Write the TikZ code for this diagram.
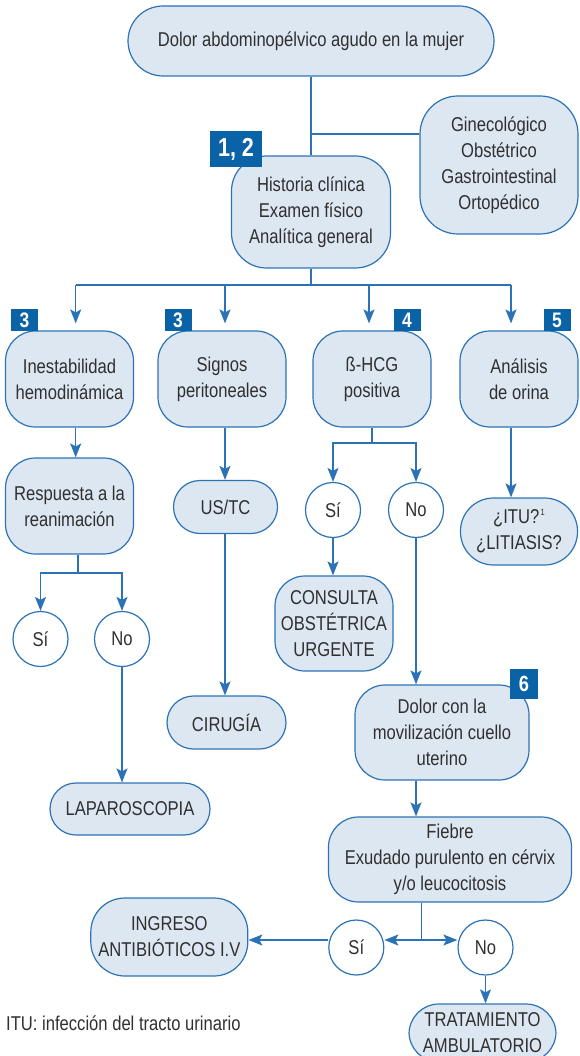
\documentclass[tikz,border=0pt]{standalone}
\usepackage{fontspec}
\setmainfont[FakeStretch=0.83]{Liberation Sans}
\usetikzlibrary{arrows.meta}
\definecolor{boxfill}{HTML}{DDE7F2}
\definecolor{boxline}{HTML}{2B73B6}
\definecolor{badgeblue}{HTML}{0A63A6}
\definecolor{txt}{HTML}{303030}
\begin{document}
\begin{tikzpicture}[x=1pt,y=-1pt,
  box/.style={draw=boxline, fill=boxfill, line width=1.2pt, align=center, text=txt,
    font=\fontsize{20}{26}\selectfont, inner sep=0pt},
  rbox/.style={box, rounded corners=30pt},
  circ/.style={circle, draw=boxline, fill=white, line width=1.2pt, minimum size=55pt,
    inner sep=0pt, text=txt, font=\fontsize{20}{26}\selectfont},
  badge/.style={fill=badgeblue, text=white, inner sep=0pt, font=\bfseries\fontsize{21}{21}\selectfont},
  ln/.style={draw=boxline, line width=1.3pt},
  arr/.style={draw=boxline, line width=1.3pt, -{Stealth[length=14pt,width=11pt,inset=3pt]}}]
\useasboundingbox (0,0) rectangle (579,1056);

% nodes
\node[box, rounded corners=35pt, minimum width=366pt, minimum height=70pt] (top) at (311,41) {Dolor abdominopélvico agudo en la mujer};
\node[box, rounded corners=38pt, minimum width=158pt, minimum height=138pt] (gine) at (499,165) {Ginecológico\\Obstétrico\\Gastrointestinal\\Ortopédico};
\node[box, rounded corners=35pt, minimum width=159pt, minimum height=112pt] (hist) at (311,212) {Historia clínica\\Examen físico\\Analítica general};

\node[rbox, minimum width=128pt, minimum height=96pt] (inest) at (69.5,379) {Inestabilidad\\hemodinámica};
\node[rbox, minimum width=128pt, minimum height=96pt] (signos) at (222,379) {Signos\\peritoneales};
\node[rbox, minimum width=118pt, minimum height=96pt] (hcg) at (372,379) {ß-HCG\\positiva};
\node[rbox, minimum width=118pt, minimum height=96pt] (anal) at (519,379) {Análisis\\de orina};

\node[rbox, minimum width=128pt, minimum height=96pt] (resp) at (69.5,506) {Respuesta a la\\reanimación};
\node[box, rounded corners=26.5pt, minimum width=104pt, minimum height=53pt] (ustc) at (225.5,507) {US/TC};
\node[box, rounded corners=26.5pt, minimum width=119pt, minimum height=53pt] (cir) at (226.5,722.5) {CIRUGÍA};
\node[box, rounded corners=26pt, minimum width=160pt, minimum height=52pt] (lap) at (130,809) {LAPAROSCOPIA};

\node[circ] (si1) at (40.5,639) {Sí};
\node[circ] (no1) at (122,639) {No};
\node[circ] (si2) at (333,510) {Sí};
\node[circ] (no2) at (416,510) {No};

\node[rbox, minimum width=118pt, minimum height=95pt] (cons) at (334,623.5) {CONSULTA\\OBSTÉTRICA\\URGENTE};
\node[rbox, minimum width=174pt, minimum height=95pt] (dolor) at (442,732.5) {Dolor con la\\movilización cuello\\uterino};
\node[box, rounded corners=33pt, minimum width=117pt, minimum height=67pt] (itu) at (519,531.5) {¿ITU?{\fontsize{9}{9}\selectfont\raisebox{8pt}{\,1}}\\¿LITIASIS?};
\node[rbox, minimum width=243pt, minimum height=85pt] (fieb) at (450,859.5) {Fiebre\\Exudado purulento en cérvix\\y/o leucocitosis};

\node[circ] (si3) at (356.3,947.5) {Sí};
\node[circ] (no3) at (485.5,947.5) {No};
\node[box, rounded corners=34pt, minimum width=157pt, minimum height=78pt] (ingr) at (169.3,937) {INGRESO\\ANTIBIÓTICOS I.V};
\node[rbox, minimum width=147pt, minimum height=58pt] (trat) at (482.5,1033) {TRATAMIENTO\\AMBULATORIO};

\node[anchor=west, inner sep=0pt, text=txt, font=\fontsize{20}{22}\selectfont] (fn) at (6,1023) {ITU: infección del tracto urinario};

% badges
\node[badge, minimum width=52pt, minimum height=36pt, font=\bfseries\fontsize{26}{26}\selectfont] (b12) at (236,149) {1, 2};
\node[badge, minimum width=27pt, minimum height=22pt] (b3a) at (24.5,320) {3};
\node[badge, minimum width=27pt, minimum height=22pt] (b3b) at (178,320) {3};
\node[badge, minimum width=27pt, minimum height=22pt] (b4) at (407,320) {4};
\node[badge, minimum width=27pt, minimum height=22pt] (b5) at (557,320) {5};
\node[badge, minimum width=28pt, minimum height=30pt, font=\bfseries\fontsize{22}{22}\selectfont] (b6) at (524,684) {6};

% connectors
\coordinate (b1) at (311,134);
\draw[ln] (top.south) -- (hist.north);
\draw[ln] (b1) -- (b1 -| gine.west);

\coordinate (h1) at (311,285);
\coordinate (r1) at (75.7,285);
\coordinate (r2) at (225,285);
\coordinate (r3) at (369,285);
\coordinate (r4) at (511,285);
\draw[ln] (hist.south) -- (h1);
\draw[ln] (r1) -- (r4);
\draw[arr, shorten >=7pt] (r1) -- (r1 |- inest.north);
\draw[arr, shorten >=7pt] (r2) -- (r2 |- signos.north);
\draw[arr, shorten >=7pt] (r3) -- (r3 |- hcg.north);
\draw[arr, shorten >=7pt] (r4) -- (r4 |- anal.north);

\draw[arr] (r1 |- inest.south) -- (r1 |- resp.north);
\coordinate (j1) at (78,573);
\draw[ln] (j1 |- resp.south) -- (j1);
\draw[arr] (j1) -| (si1);
\draw[arr] (j1) -| (no1);
\draw[arr] (no1) -- (no1 |- lap.north);

\draw[arr] (r2 |- signos.south) -- (r2 |- ustc.north);
\draw[arr] (r2 |- ustc.south) -- (r2 |- cir.north);

\coordinate (j2) at (372,443);
\draw[ln] (hcg.south) -- (j2);
\draw[arr] (j2) -| (si2);
\draw[arr] (j2) -| (no2);
\draw[arr] (si2) -- (si2 |- cons.north);
\draw[arr] (no2) -- (no2 |- dolor.north);
\draw[arr] (no2 |- dolor.south) -- (no2 |- fieb.north);

\draw[arr] (r4 |- anal.south) -- (r4 |- itu.north);

\coordinate (j3) at (421.7,940);
\draw[ln] (j3 |- fieb.south) -- (j3);
\draw[arr] (j3) -- (si3.east |- j3);
\draw[arr] (j3) -- (no3.west |- j3);
\draw[arr] (si3.west |- j3) -- (ingr.east |- j3);
\draw[arr] (no3) -- (no3 |- trat.north);
\end{tikzpicture}
\end{document}
